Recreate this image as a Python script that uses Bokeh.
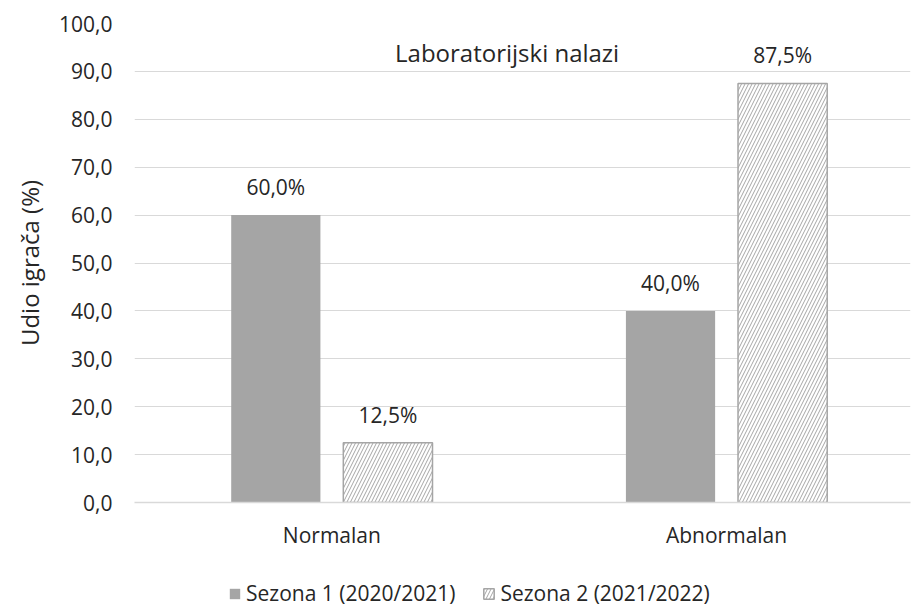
from bokeh.plotting import figure
from bokeh.layouts import column
from bokeh.models import (Range1d, FixedTicker, CustomJSTickFormatter, Legend, LegendItem,
                          Label, ColumnDataSource)
from bokeh.embed import file_html
from bokeh.resources import INLINE
from bokeh.core.properties import value

# ---- data ----
categories = ["Normalan", "Abnormalan"]
series_names = ["Sezona 1 (2020/2021)", "Sezona 2 (2021/2022)"]
season1 = [60.0, 40.0]
season2 = [12.5, 87.5]
y_ticks = [0, 10, 20, 30, 40, 50, 60, 70, 80, 90, 100]
title_text = "Laboratorijski nalazi"
y_label = "Udio igrača (%)"

FONT = "Open Sans"
FS = "21px"
TXT = "#262626"
GRAY = "#a5a5a5"
GRID = "#d9d9d9"
W = 912

centers = [i + 0.5 for i in range(len(categories))]
offset = 0.142
bar_w = 0.226

def fmt(v):
    return ("%.1f" % v).replace(".", ",") + "%"

src1 = ColumnDataSource(dict(x=[c - offset for c in centers], y=season1,
                             lab=[fmt(v) for v in season1]))
src2 = ColumnDataSource(dict(x=[c + offset for c in centers], y=season2,
                             lab=[fmt(v) for v in season2]))

bar1 = dict(fill_color=GRAY, line_color=None)
bar2 = dict(fill_color="white", line_color=GRAY, line_width=1.5,
            hatch_pattern="right_diagonal_line", hatch_color=GRAY,
            hatch_scale=7, hatch_weight=1)

p = figure(width=W, height=555, output_backend="svg", toolbar_location=None,
           x_range=Range1d(0, 1.966), y_range=Range1d(0, 100),
           min_border_left=134, min_border_right=2, min_border_top=23, min_border_bottom=53)
p.outline_line_color = None

r1 = p.vbar(x="x", top="y", width=bar_w, source=src1, **bar1)
r2 = p.vbar(x="x", top="y", width=bar_w, source=src2, **bar2)

for s in (src1, src2):
    p.text(x="x", y="y", text="lab", source=s, text_align="center",
           text_baseline="alphabetic", y_offset=-28, text_font=value(FONT),
           text_font_size=FS, text_color=TXT)

# axes
p.yaxis.ticker = FixedTicker(ticks=y_ticks)
p.yaxis.formatter = CustomJSTickFormatter(code="return tick.toFixed(1).replace('.', ',');")
p.yaxis.axis_line_color = None
p.yaxis.major_tick_line_color = None
p.yaxis.minor_tick_line_color = None
p.yaxis.major_label_text_font = FONT
p.yaxis.major_label_text_font_size = FS
p.yaxis.major_label_text_color = TXT
p.yaxis.major_label_standoff = 16
p.yaxis.axis_label = y_label
p.yaxis.axis_label_text_font = FONT
p.yaxis.axis_label_text_font_size = "24px"
p.yaxis.axis_label_text_font_style = "normal"
p.yaxis.axis_label_text_color = TXT
p.yaxis.axis_label_standoff = 10

p.xaxis.ticker = FixedTicker(ticks=centers)
p.xaxis.major_label_overrides = {c: n for c, n in zip(centers, categories)}
p.xaxis.axis_line_color = GRID
p.xaxis.axis_line_width = 1.5
p.xaxis.major_tick_line_color = None
p.xaxis.minor_tick_line_color = None
p.xaxis.major_label_text_font = FONT
p.xaxis.major_label_text_font_size = FS
p.xaxis.major_label_text_color = TXT
p.xaxis.major_label_standoff = 12

p.xgrid.grid_line_color = None
p.ygrid.grid_line_color = GRID
p.ygrid.grid_line_width = 1.2

p.add_layout(Label(x=0.944, y=94, text=title_text, text_align="center",
                   text_baseline="middle", text_font=FONT, text_font_size="24px",
                   text_color=TXT))

# legend strip below the chart (its renderers are hidden; only the legend shows)
lg = figure(width=W, height=52, output_backend="svg", toolbar_location=None,
            x_range=Range1d(0, 1.966), y_range=Range1d(0, 100), min_border=0)
lg.axis.visible = False
lg.grid.visible = False
lg.outline_line_color = None
l1 = lg.vbar(x="x", top="y", width=bar_w, source=src1, visible=False, **bar1)
l2 = lg.vbar(x="x", top="y", width=bar_w, source=src2, visible=False, **bar2)
legend = Legend(items=[LegendItem(label=series_names[0], renderers=[l1]),
                       LegendItem(label=series_names[1], renderers=[l2])],
                orientation="horizontal", location=(94, 0),
                glyph_width=13, glyph_height=13, label_standoff=5, spacing=27,
                label_text_font=FONT, label_text_font_size=FS, label_text_color=TXT,
                border_line_color=None, background_fill_alpha=0, margin=0, padding=0,
                inactive_fill_alpha=0, click_policy="none")
lg.add_layout(legend, "center")

open("out.html", "w").write(file_html(column(p, lg, spacing=0), INLINE))
